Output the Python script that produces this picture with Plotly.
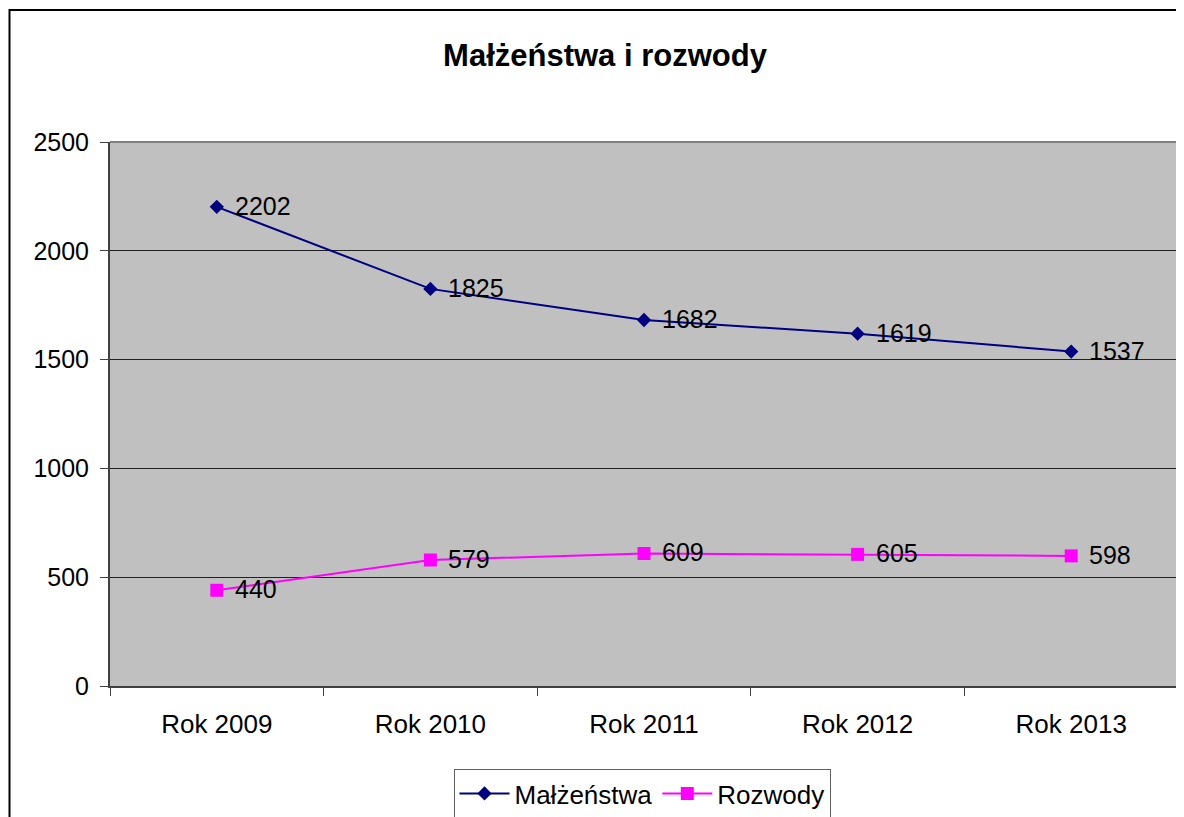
import plotly.graph_objects as go

categories = ["Rok 2009", "Rok 2010", "Rok 2011", "Rok 2012", "Rok 2013"]
malzenstwa = [2202, 1825, 1682, 1619, 1537]
rozwody = [440, 579, 609, 605, 598]
y_ticks = [0, 500, 1000, 1500, 2000, 2500]

FONT = "Liberation Sans, Arial, sans-serif"

# page body has an 8px margin; figure coordinates are offset by it
OFF = 8
W, H = 1184 - OFF, 817 - OFF
L, T = 110 - OFF, 142 - OFF
R = 1184 - 1178
B = 817 - 686
PW = W - L - R
PH = H - T - B

fig = go.Figure()
fig.add_trace(go.Scatter(
    x=categories, y=malzenstwa, name="Małżeństwa", mode="lines+markers",
    line=dict(color="#000080", width=2),
    marker=dict(symbol="diamond", size=11, color="#000080"),
))
fig.add_trace(go.Scatter(
    x=categories, y=rozwody, name="Rozwody", mode="lines+markers",
    line=dict(color="#FF00FF", width=2),
    marker=dict(symbol="square", size=13, color="#FF00FF"),
))

annotations = []
for series in (malzenstwa, rozwody):
    for c, v in zip(categories, series):
        annotations.append(dict(
            x=c, y=v, xref="x", yref="y", text=str(v), showarrow=False,
            xanchor="left", yanchor="middle", xshift=16, yshift=1,
            font=dict(family=FONT, size=25, color="black"),
        ))

shapes = [
    dict(type="rect", xref="paper", yref="paper",
         x0=(9.5 - 110) / PW, x1=1.2, y0=-0.5, y1=(686 - 10) / PH,
         line=dict(color="black", width=2), fillcolor="rgba(0,0,0,0)", layer="above"),
    dict(type="line", xref="paper", yref="paper", x0=0, x1=1, y0=1, y1=1,
         line=dict(color="#808080", width=2), layer="above"),
    dict(type="line", xref="paper", yref="paper", x0=1, x1=1, y0=0, y1=1,
         line=dict(color="#808080", width=2), layer="above"),
]

fig.update_layout(
    width=W, height=H,
    margin=dict(l=L, r=R, t=T, b=B, autoexpand=False),
    paper_bgcolor="white", plot_bgcolor="#C0C0C0",
    font=dict(family=FONT, size=25, color="black"),
    title=dict(text="<b>Małżeństwa i rozwody</b>", x=(605 - OFF) / W, xanchor="center",
               y=1 - (55 - OFF) / H, yanchor="middle", yref="container",
               font=dict(family=FONT, size=31, color="black")),
    showlegend=True,
    legend=dict(orientation="h", x=(642 - 110) / PW, xanchor="center",
                y=(686 - 769) / PH, yanchor="top", itemwidth=50,
                bordercolor="#606060", borderwidth=1, bgcolor="white",
                font=dict(family=FONT, size=26, color="black")),
    annotations=annotations,
    shapes=shapes,
)
fig.update_xaxes(
    showgrid=False, showline=True, linecolor="#404040", linewidth=2,
    ticks="outside", ticklen=8, tickcolor="#404040", tickwidth=1,
    tickson="boundaries", ticklabelstandoff=14,
    tickfont=dict(family=FONT, size=26, color="black"),
    range=[-0.5, 4.5], zeroline=False,
)
fig.update_yaxes(
    range=[0, 2500], tickvals=y_ticks, showgrid=True, gridcolor="#202020", gridwidth=1,
    showline=True, linecolor="#404040", linewidth=2,
    ticks="outside", ticklen=8, tickcolor="#404040", tickwidth=1,
    ticklabelstandoff=6, zeroline=False,
    tickfont=dict(family=FONT, size=25, color="black"),
)

fig.write_html("out.html")
